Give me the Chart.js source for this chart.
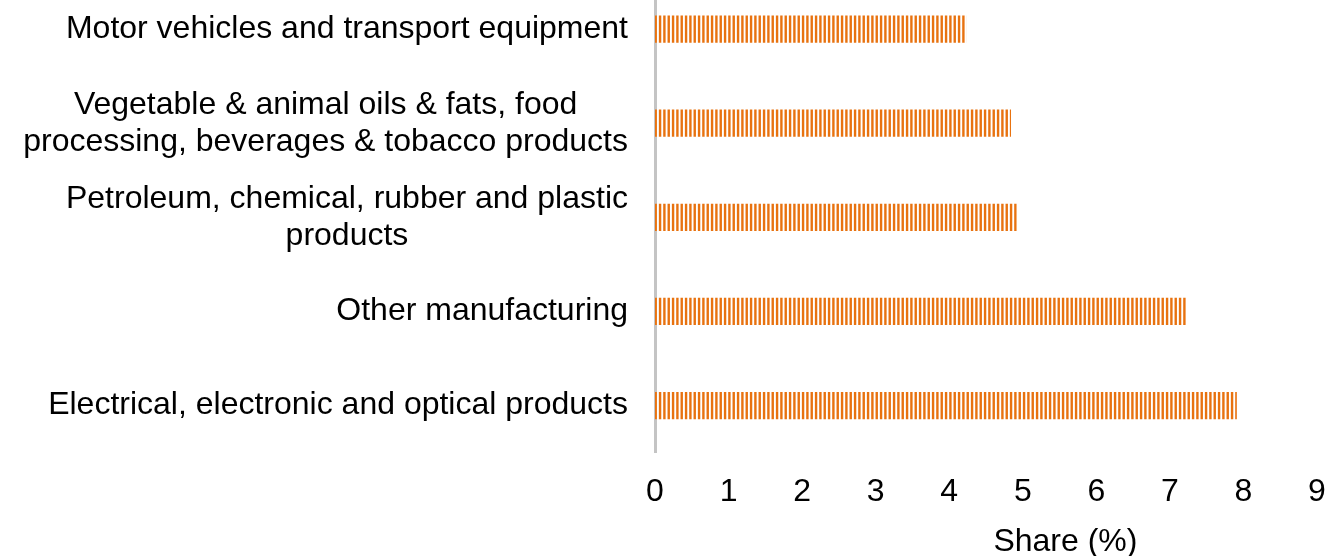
<!DOCTYPE html>
<html>
<head>
<meta charset="utf-8">
<script src="https://cdn.jsdelivr.net/npm/chart.js@4"></script>
<style>
    html, body { margin: 0; padding: 0; background: #ffffff; overflow: hidden; }
    #wrap { position: absolute; left: 0; top: -18px; width: 1360px; height: 574px; }
</style>
</head>
<body>
<div id="wrap"><canvas id="shareChart"></canvas></div>
<script>
// categories, top to bottom
const categories = [
    ['Motor vehicles and transport equipment'],
    ['Vegetable & animal oils & fats, food', 'processing, beverages & tobacco products'],
    ['Petroleum, chemical, rubber and plastic', 'products'],
    ['Other manufacturing'],
    ['Electrical, electronic and optical products']
];
const shareValues = [4.23, 4.84, 4.92, 7.22, 7.91];
const xTicks = [0, 1, 2, 3, 4, 5, 6, 7, 8, 9];
const xTitle = 'Share (%)';

const FONT = '"Liberation Sans", Arial, sans-serif';

// vertical stripe fill like the original
function makeStripes() {
    const c = document.createElement('canvas');
    c.width = 13;
    c.height = 4;
    const g = c.getContext('2d');
    g.fillStyle = '#ffffff';
    g.fillRect(0, 0, 13, 4);
    g.fillStyle = '#E8720F';
    [0.2, 4.53, 8.87].forEach(x => g.fillRect(x, 0, 2.4, 4));
    return g.createPattern(c, 'repeat');
}

// y labels: single lines right aligned, wrapped ones centred on their widest line
const yLabelPlugin = {
    id: 'yLabels',
    afterDraw(chart) {
        const ctx = chart.ctx;
        const y = chart.scales.y;
        const right = y.left - 27;
        const lh = 37;
        ctx.save();
        ctx.font = '32px ' + FONT;
        ctx.fillStyle = '#000000';
        ctx.textBaseline = 'middle';
        categories.forEach((lines, i) => {
            const cy = y.getPixelForValue(i);
            if (lines.length === 1) {
                ctx.textAlign = 'right';
                ctx.fillText(lines[0], right, cy);
                return;
            }
            const widest = Math.max(...lines.map(l => ctx.measureText(l).width));
            ctx.textAlign = 'center';
            lines.forEach((l, j) => {
                ctx.fillText(l, right - widest / 2, cy + (j - (lines.length - 1) / 2) * lh);
            });
        });
        // axis title
        const x = chart.scales.x;
        ctx.textAlign = 'center';
        ctx.textBaseline = 'alphabetic';
        ctx.fillText(xTitle, x.getPixelForValue(5.58), chart.height - 5);
        ctx.restore();
    }
};

const ctx = document.getElementById('shareChart').getContext('2d');
new Chart(ctx, {
    type: 'bar',
    data: {
        labels: categories.map(l => l.join(' ')),
        datasets: [{
            label: xTitle,
            data: shareValues,
            backgroundColor: makeStripes(),
            borderWidth: 0,
            categoryPercentage: 1,
            barPercentage: 0.29
        }]
    },
    options: {
        indexAxis: 'y',
        responsive: true,
        maintainAspectRatio: false,
        animation: false,
        layout: { padding: { left: 655, right: 43, top: 0, bottom: 25 } },
        plugins: {
            legend: { display: false },
            tooltip: { enabled: false }
        },
        scales: {
            x: {
                min: 0,
                max: 9,
                afterBuildTicks: axis => { axis.ticks = xTicks.map(v => ({ value: v })); },
                grid: { display: false, drawTicks: false },
                border: { display: false },
                ticks: {
                    padding: 20,
                    color: '#000000',
                    font: { family: FONT, size: 32 }
                }
            },
            y: {
                grid: { display: false, drawTicks: false },
                border: { display: true, color: '#C4C4C4', width: 3 },
                ticks: { display: false }
            }
        }
    },
    plugins: [yLabelPlugin]
});
</script>
</body>
</html>
